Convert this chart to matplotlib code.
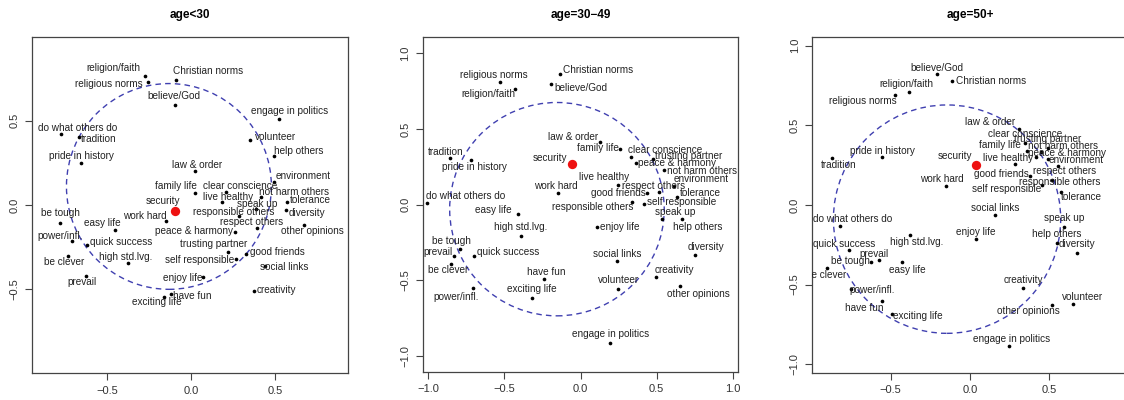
import matplotlib
matplotlib.use("Agg")
import matplotlib.pyplot as plt
from matplotlib.patches import Circle

plt.rcParams['font.family'] = ['Liberation Sans', 'DejaVu Sans']

names = ["religion/faith", "religious norms", "Christian norms", "believe/God",
         "do what others do", "tradition", "pride in history", "law & order",
         "family life", "security", "engage in politics", "volunteer",
         "help others", "environment", "clear conscience", "not harm others",
         "live healthy", "speak up", "tolerance", "diversity",
         "responsible others", "respect others", "other opinions",
         "peace & harmony", "trusting partner", "good friends",
         "self responsible", "social links", "enjoy life", "creativity",
         "have fun", "exciting life", "work hard", "be tough", "easy life",
         "power/infl.", "quick success", "be clever", "high std.lvg.", "prevail"]

titles = ["age<30", "age=30\u221249", "age=50+"]

# point coordinates per group (same order as names)
x_young = [-0.272, -0.256, -0.088, -0.095, -0.774, -0.665, -0.651, 0.024, 0.026, -0.093,
           0.524, 0.353, 0.498, 0.498, 0.208, 0.418, 0.188, 0.389, 0.575, 0.567,
           0.289, 0.395, 0.676, 0.265, 0.224, 0.329, 0.270, 0.444, 0.071, 0.377,
           -0.117, -0.157, -0.147, -0.776, -0.451, -0.707, -0.619, -0.730, -0.375, -0.621]
y_young = [0.767, 0.728, 0.741, 0.595, 0.421, 0.403, 0.251, 0.203, 0.073, -0.033,
           0.512, 0.387, 0.289, 0.135, 0.079, 0.049, 0.018, -0.026, 0.020, -0.030,
           -0.065, -0.135, -0.117, -0.158, -0.279, -0.292, -0.322, -0.362, -0.427, -0.512,
           -0.530, -0.547, -0.097, -0.105, -0.146, -0.215, -0.239, -0.302, -0.342, -0.423]

x_mid = [-0.432, -0.527, -0.137, -0.196, -1.007, -0.859, -0.721, 0.128, 0.261, -0.054,
         0.194, 0.248, 0.665, 0.612, 0.332, 0.549, 0.244, 0.535, 0.636, 0.754,
         0.340, 0.518, 0.652, 0.365, 0.474, 0.435, 0.419, 0.242, 0.110, 0.496,
         -0.240, -0.317, -0.151, -0.792, -0.413, -0.708, -0.698, -0.851, -0.391, -0.829]
y_mid = [0.764, 0.812, 0.865, 0.795, 0.011, 0.308, 0.295, 0.416, 0.368, 0.267,
         -0.916, -0.559, -0.095, 0.121, 0.313, 0.229, 0.130, -0.093, 0.053, -0.331,
         0.018, 0.082, -0.539, 0.273, 0.300, 0.075, 0.004, -0.374, -0.146, -0.478,
         -0.493, -0.615, 0.080, -0.291, -0.064, -0.553, -0.337, -0.392, -0.205, -0.337]

x_old = [-0.387, -0.475, -0.115, -0.205, -0.820, -0.872, -0.553, 0.308, 0.361, 0.036,
         0.245, 0.650, 0.550, 0.495, 0.348, 0.450, 0.283, 0.597, 0.575, 0.673,
         0.520, 0.553, 0.516, 0.418, 0.491, 0.380, 0.455, 0.157, 0.036, 0.336,
         -0.557, -0.494, -0.148, -0.625, -0.431, -0.752, -0.763, -0.901, -0.377, -0.574]
y_old = [0.709, 0.690, 0.777, 0.820, -0.130, 0.293, 0.301, 0.479, 0.339, 0.251,
         -0.887, -0.623, -0.237, 0.289, 0.391, 0.330, 0.255, -0.136, 0.083, -0.303,
         0.157, 0.245, -0.628, 0.299, 0.356, 0.184, 0.124, -0.061, -0.215, -0.521,
         -0.605, -0.684, 0.119, -0.360, -0.358, -0.529, -0.282, -0.397, -0.186, -0.347]

# where each label sits (data coords, same order)
lx_young = [-0.461, -0.490, 0.103, -0.099, -0.673, -0.550, -0.653, 0.038, -0.090, -0.163,
            0.587, 0.502, 0.645, 0.670, 0.292, 0.615, 0.224, 0.393, 0.714, 0.690,
            0.256, 0.363, 0.724, 0.018, 0.139, 0.518, 0.055, 0.555, -0.048, 0.512,
            0.011, -0.202, -0.272, -0.778, -0.526, -0.778, -0.417, -0.752, -0.385, -0.649]
ly_young = [0.814, 0.718, 0.795, 0.648, 0.458, 0.391, 0.291, 0.237, 0.113, 0.026,
            0.558, 0.403, 0.320, 0.172, 0.114, 0.075, 0.049, 0.004, 0.030, -0.046,
            -0.042, -0.103, -0.154, -0.154, -0.233, -0.281, -0.326, -0.366, -0.435, -0.504,
            -0.538, -0.575, -0.063, -0.049, -0.109, -0.182, -0.219, -0.336, -0.310, -0.457]

lx_mid = [-0.606, -0.573, 0.113, 0.003, -0.754, -0.886, -0.698, -0.049, 0.117, -0.202,
          0.194, 0.248, 0.767, 0.790, 0.555, 0.796, 0.156, 0.625, 0.790, 0.823,
          0.079, 0.478, 0.774, 0.632, 0.708, 0.248, 0.665, 0.242, 0.260, 0.614,
          -0.227, -0.317, -0.160, -0.846, -0.573, -0.818, -0.474, -0.873, -0.391, -0.934]
ly_mid = [0.729, 0.857, 0.892, 0.773, 0.059, 0.350, 0.251, 0.449, 0.376, 0.306,
          -0.857, -0.500, -0.146, 0.167, 0.361, 0.220, 0.185, -0.051, 0.075, -0.282,
          -0.016, 0.125, -0.588, 0.273, 0.321, 0.075, 0.016, -0.326, -0.150, -0.432,
          -0.445, -0.557, 0.123, -0.238, -0.035, -0.608, -0.315, -0.434, -0.146, -0.311]

lx_old = [-0.400, -0.677, 0.135, -0.209, -0.740, -0.830, -0.553, 0.130, 0.187, -0.092,
          0.260, 0.711, 0.550, 0.669, 0.348, 0.585, 0.239, 0.597, 0.701, 0.673,
          0.564, 0.596, 0.371, 0.616, 0.491, 0.197, 0.233, 0.157, 0.036, 0.336,
          -0.667, -0.329, -0.180, -0.752, -0.396, -0.614, -0.794, -0.908, -0.338, -0.606]
ly_old = [0.758, 0.653, 0.778, 0.858, -0.090, 0.251, 0.341, 0.521, 0.377, 0.308,
          -0.843, -0.578, -0.184, 0.281, 0.448, 0.372, 0.297, -0.083, 0.052, -0.247,
          0.146, 0.212, -0.665, 0.328, 0.412, 0.195, 0.100, -0.017, -0.168, -0.471,
          -0.645, -0.697, 0.163, -0.352, -0.408, -0.534, -0.243, -0.439, -0.230, -0.306]

# dashed reference circle: centre x, centre y, radius
circles = [(-0.13, 0.11, 0.61), (-0.155, -0.03, 0.705), (-0.144, -0.089, 0.717)]

panels = [(x_young, y_young, lx_young, ly_young),
          (x_mid, y_mid, lx_mid, ly_mid),
          (x_old, y_old, lx_old, ly_old)]

boxes = [[0.0285, 0.0675, 0.2811, 0.84],
         [0.3761, 0.0708, 0.2808, 0.836],
         [0.7227, 0.0683, 0.2809, 0.8385]]
xlims = [(-0.945, 0.936), (-1.037, 1.037), (-0.994, 0.998)]
ylims = [(-0.996, 0.996), (-1.104, 1.106), (-1.053, 1.053)]
xticks = [[-0.5, 0.0, 0.5], [-1.0, -0.5, 0.0, 0.5, 1.0], [-0.5, 0.0, 0.5]]
yticks = [[-0.5, 0.0, 0.5], [-1.0, -0.5, 0.0, 0.5, 1.0], [-1.0, -0.5, 0.0, 0.5, 1.0]]

fig = plt.figure(figsize=(11.24, 4.0), dpi=100)
sec = names.index("security")

for i, (xs, ys, lxs, lys) in enumerate(panels):
    ax = fig.add_axes(boxes[i])
    cx, cy, r = circles[i]
    ax.add_patch(Circle((cx, cy), r, fill=False, ec='#4040b0', lw=1.0,
                        ls=(0, (4, 3))))
    others = [k for k in range(len(names)) if k != sec]
    ax.scatter([xs[k] for k in others], [ys[k] for k in others], s=7, c='black',
               zorder=3, linewidths=0)
    ax.scatter([xs[sec]], [ys[sec]], s=45, c='#ee1111', zorder=4, linewidths=0)
    for k, nm in enumerate(names):
        ax.text(lxs[k], lys[k], nm, ha='center', va='center', fontsize=7.2,
                color='#222222', clip_on=True)
    ax.set_xlim(*xlims[i])
    ax.set_ylim(*ylims[i])
    ax.set_xticks(xticks[i])
    ax.set_yticks(yticks[i])
    ax.set_xticklabels([f"{v:.1f}".replace("-", "\u2212") for v in xticks[i]])
    ax.set_yticklabels([f"{v:.1f}".replace("-", "\u2212") for v in yticks[i]],
                       rotation=90, va='center')
    ax.tick_params(labelsize=8, length=5, width=0.8, color='#444444',
                   labelcolor='#333333', pad=4)
    for sp in ax.spines.values():
        sp.set_color('#444444')
        sp.set_linewidth(0.9)
    ax.set_title(titles[i], fontsize=8.5, fontweight='bold', pad=14)

fig.savefig("out.png", dpi=100)
